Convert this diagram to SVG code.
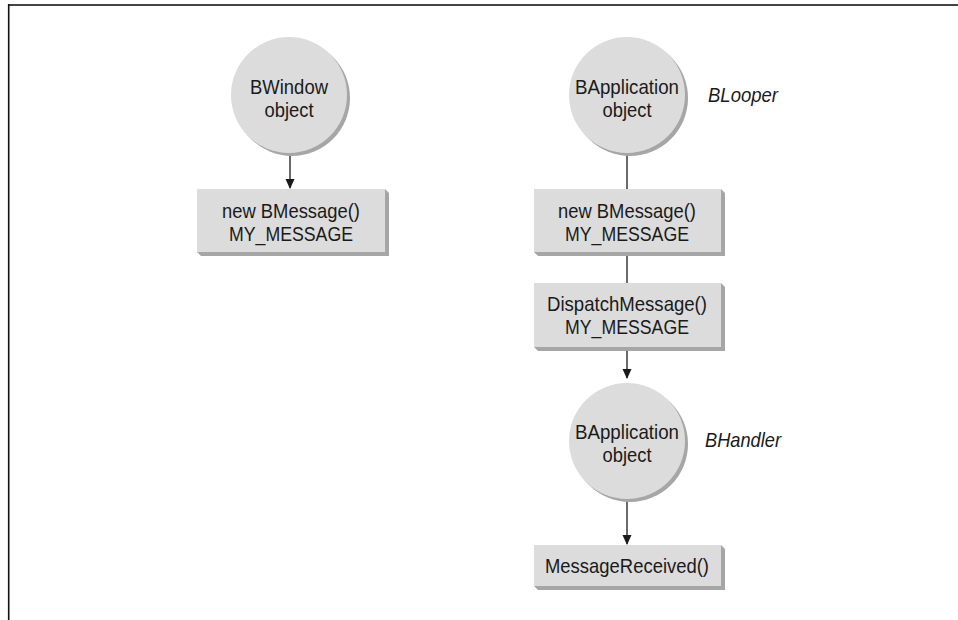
<svg xmlns="http://www.w3.org/2000/svg" width="958" height="620" viewBox="0 0 958 620">
<style>
.face{fill:#dcdcdc}
.shade{fill:#a6a6a6}
.t{font-family:"Liberation Sans",Arial,sans-serif;font-size:21px;fill:#1a1a1a;text-anchor:middle}
.i{font-family:"Liberation Sans",Arial,sans-serif;font-size:21px;font-style:italic;fill:#1a1a1a}
.c{stroke:#1a1a1a;stroke-width:1.3;fill:none}
</style>
<defs>
<marker id="ah" markerWidth="10" markerHeight="12" refX="9" refY="5" orient="auto" markerUnits="userSpaceOnUse">
<path d="M0,0.5 L10,5 L0,9.5 z" fill="#1a1a1a"/>
</marker>
</defs>
<g id="frame">
<line x1="8" y1="5" x2="958" y2="5" stroke="#444" stroke-width="2"/>
<line x1="8.7" y1="4" x2="8.7" y2="620" stroke="#111" stroke-width="1.6"/>
</g>
<g id="connectors">
<line class="c" x1="290" y1="154" x2="290" y2="188" marker-end="url(#ah)"/>
<line class="c" x1="627" y1="154" x2="627" y2="189"/>
<line class="c" x1="627" y1="256" x2="627" y2="283"/>
<line class="c" x1="627" y1="351" x2="627" y2="378" marker-end="url(#ah)"/>
<line class="c" x1="627" y1="500" x2="627" y2="544" marker-end="url(#ah)"/>
</g>
<g id="bwindow">
<circle class="shade" cx="292" cy="98" r="58"/>
<circle class="face" cx="289" cy="95" r="58"/>
<text class="t" x="289" y="94" textLength="78" lengthAdjust="spacingAndGlyphs">BWindow</text>
<text class="t" x="289" y="117" textLength="49" lengthAdjust="spacingAndGlyphs">object</text>
</g>
<g id="msg-left">
<polygon class="shade" points="385,189 389,193 389,256 201,256 197,252 385,252"/>
<rect class="face" x="197" y="189" width="188" height="63"/>
<text class="t" x="291" y="218" textLength="138" lengthAdjust="spacingAndGlyphs">new BMessage()</text>
<text class="t" x="291" y="241" textLength="124" lengthAdjust="spacingAndGlyphs">MY_MESSAGE</text>
</g>
<g id="bapp-looper">
<circle class="shade" cx="630" cy="98" r="58"/>
<circle class="face" cx="627" cy="95" r="58"/>
<text class="t" x="627" y="94" textLength="104" lengthAdjust="spacingAndGlyphs">BApplication</text>
<text class="t" x="627" y="117" textLength="49" lengthAdjust="spacingAndGlyphs">object</text>
</g>
<text id="label-blooper" class="i" x="708" y="102" textLength="70" lengthAdjust="spacingAndGlyphs">BLooper</text>
<g id="msg-right">
<polygon class="shade" points="721,189 725,193 725,256 538,256 534,252 721,252"/>
<rect class="face" x="534" y="189" width="187" height="63"/>
<text class="t" x="627" y="218" textLength="138" lengthAdjust="spacingAndGlyphs">new BMessage()</text>
<text class="t" x="627" y="241" textLength="124" lengthAdjust="spacingAndGlyphs">MY_MESSAGE</text>
</g>
<g id="dispatch">
<polygon class="shade" points="721,283 725,287 725,351 538,351 534,347 721,347"/>
<rect class="face" x="534" y="283" width="187" height="64"/>
<text class="t" x="627" y="311" textLength="160" lengthAdjust="spacingAndGlyphs">DispatchMessage()</text>
<text class="t" x="627" y="334" textLength="124" lengthAdjust="spacingAndGlyphs">MY_MESSAGE</text>
</g>
<g id="bapp-handler">
<circle class="shade" cx="630" cy="444" r="58"/>
<circle class="face" cx="627" cy="441" r="58"/>
<text class="t" x="627" y="439" textLength="104" lengthAdjust="spacingAndGlyphs">BApplication</text>
<text class="t" x="627" y="462" textLength="49" lengthAdjust="spacingAndGlyphs">object</text>
</g>
<text id="label-bhandler" class="i" x="705" y="447" textLength="76" lengthAdjust="spacingAndGlyphs">BHandler</text>
<g id="received">
<polygon class="shade" points="721,545 725,549 725,590 538,590 534,586 721,586"/>
<rect class="face" x="534" y="545" width="187" height="41"/>
<text class="t" x="627" y="573" textLength="164" lengthAdjust="spacingAndGlyphs">MessageReceived()</text>
</g>
</svg>
